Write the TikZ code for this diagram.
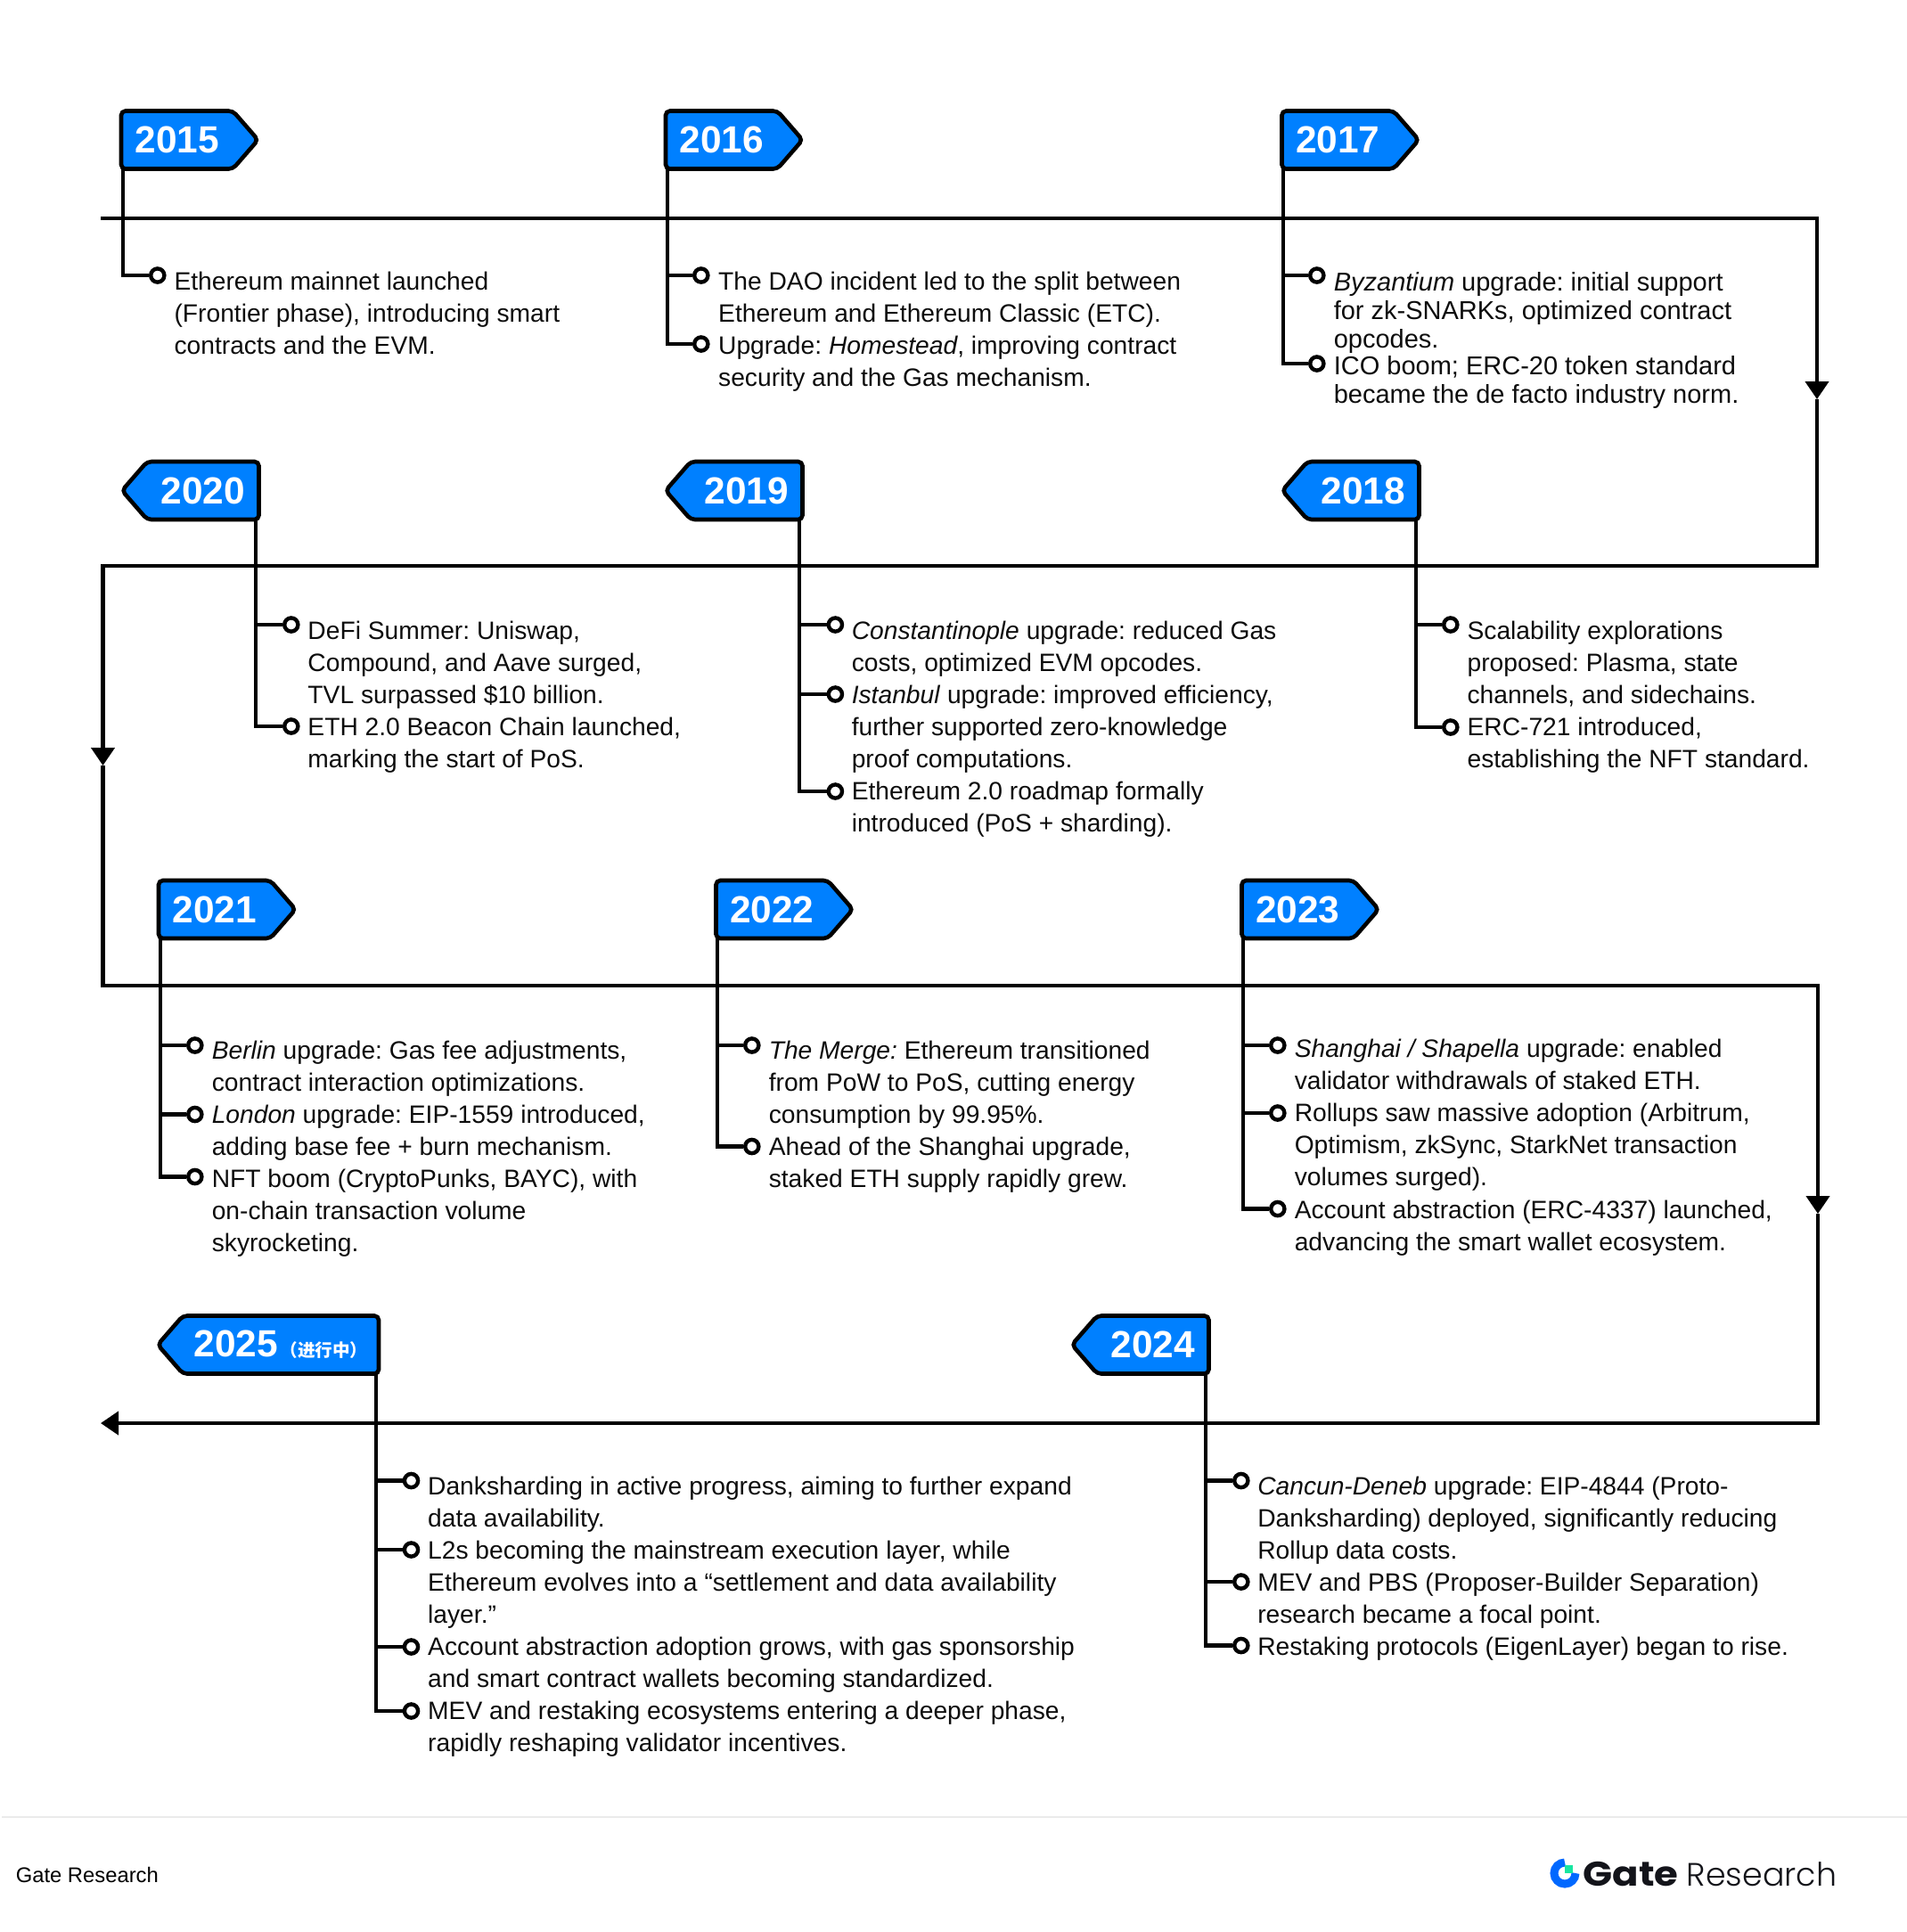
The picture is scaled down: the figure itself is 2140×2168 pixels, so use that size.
\documentclass[tikz,border=0pt]{standalone}
\usepackage{fontspec}
\setmainfont{Liberation Sans}
\newfontfamily\cjk{Noto Sans CJK SC}
\newfontfamily\gatewide[FakeStretch=1.13]{Poppins}
\newfontfamily\gatelight{Poppins Light}
\usetikzlibrary{arrows.meta,shapes.symbols,positioning}
\frenchspacing
\definecolor{flagblue}{HTML}{0080FF}
\definecolor{logoblue}{HTML}{0068FF}
\definecolor{logogreen}{HTML}{17E6A1}
\definecolor{logoink}{HTML}{13141A}
\definecolor{rulegray}{HTML}{EBEBEB}
\tikzset{
  flag/.style={signal,draw=black,fill=flagblue,line width=1.15pt,rounded corners=1.2pt,outer sep=0pt,inner sep=0pt,
    minimum height=16.25pt,minimum width=38.4pt,signal pointer angle=98,text=white,font=\fontsize{10.6}{12}\bfseries\selectfont},
  flagr/.style={flag,signal to=east,signal from=nowhere,anchor=west},
  flagl/.style={flag,signal to=west,signal from=nowhere,anchor=east},
  tline/.style={line width=1.05pt,line join=miter},
  tarrow/.style={tline,-{Triangle[width=6.5pt,length=5pt]}},
  stem/.style={line width=1.05pt},
  itemdot/.style={circle,draw=black,fill=white,line width=1.1pt,minimum size=3.8pt,inner sep=0pt,xshift=0.2pt},
  txt/.style={anchor=north west,align=left,inner sep=0pt,text=black!95,yshift=-1.4pt,font=\fontsize{7.05}{9}\selectfont,execute at begin node=\strut},
  txttight/.style={txt,font=\fontsize{7.25}{8}\selectfont}
}
\begin{document}
\begin{tikzpicture}[x=0.25pt,y=-0.25pt]
  \useasboundingbox (0,0) rectangle (2140,2168);

  % main line
  \coordinate (start) at (113,245);
  \coordinate (c1) at (2039,245);
  \coordinate (a1) at (2039,448);
  \coordinate (c2) at (2039,635);
  \coordinate (c3) at (115.5,635);
  \coordinate (a2) at (115.5,859);
  \coordinate (c4) at (115.5,1106);
  \coordinate (c5) at (2040,1106);
  \coordinate (a3) at (2040,1362);
  \coordinate (c6) at (2040,1597);
  \coordinate (end) at (113,1597);
  \draw[tarrow] (start) -- (c1) -- (a1);
  \draw[tarrow] (a1) -- (c2) -- (c3) -- (a2);
  \draw[tarrow] (a2) -- (c4) -- (c5) -- (a3);
  \draw[tarrow] (a3) -- (c6) -- (end);

  % flags
  \node[flagr] (f15) at (136,157) {2015};
  \node[flagr] (f16) at (747,157) {2016};
  \node[flagr] (f17) at (1438.5,157) {2017};
  \node[flagl] (f20) at (290.5,550.5) {2020};
  \node[flagl] (f19) at (900.5,550.5) {2019};
  \node[flagl] (f18) at (1592.5,550.5) {2018};
  \node[flagr] (f21) at (178,1020.5) {2021};
  \node[flagr] (f22) at (803.5,1020.5) {2022};
  \node[flagr] (f23) at (1393.5,1020.5) {2023};
  \node[flagl] (f24) at (1356.5,1509) {2024};
  \node[flagl,minimum width=62pt] (f25) at (425,1509) {2025\hspace{0.6pt}{\cjk\fontsize{4.9}{5}\selectfont （进行中）}};

  % stems leave the flags just inside their straight edge
  \coordinate (s15) at ([xshift=0.4pt]f15.south west);
  \coordinate (s16) at ([xshift=0.4pt]f16.south west);
  \coordinate (s17) at ([xshift=0.4pt]f17.south west);
  \coordinate (s20) at ([xshift=-0.8pt]f20.south east);
  \coordinate (s19) at ([xshift=-0.8pt]f19.south east);
  \coordinate (s18) at ([xshift=-0.8pt]f18.south east);
  \coordinate (s21) at ([xshift=0.4pt]f21.south west);
  \coordinate (s22) at ([xshift=0.4pt]f22.south west);
  \coordinate (s23) at ([xshift=0.4pt]f23.south west);
  \coordinate (s24) at ([xshift=-0.8pt]f24.south east);
  \coordinate (s25) at ([xshift=-0.8pt]f25.south east);

  % 2015
  \node[itemdot] (d15a) at (176,309) {};
  \node[txt] (t15a) at (194.8,299) {Ethereum mainnet launched\\(Frontier phase), introducing smart\\contracts and the EVM.};
  \draw[stem] (s15) |- (d15a);

  % 2016
  \node[itemdot] (d16a) at (786,309) {};
  \node[itemdot] (d16b) at (786,386) {};
  \node[txt] (t16a) at (805.4,299) {The DAO incident led to the split between\\Ethereum and Ethereum Classic (ETC).};
  \node[txt] (t16b) at (805.4,371) {Upgrade: \textit{Homestead}, improving contract\\security and the Gas mechanism.};
  \draw[stem] (s16) |- (d16a);
  \draw[stem] (s16) |- (d16b);

  % 2017
  \node[itemdot] (d17a) at (1477,309) {};
  \node[itemdot] (d17b) at (1477,408) {};
  \node[txttight] (t17a) at (1496,298.6) {\textit{Byzantium} upgrade: initial support\\for zk-SNARKs, optimized contract\\opcodes.};
  \node[txttight] (t17b) at (1496,393) {ICO boom; ERC-20 token standard\\became the de facto industry norm.};
  \draw[stem] (s17) |- (d17a);
  \draw[stem] (s17) |- (d17b);

  % 2020
  \node[itemdot] (d20a) at (326,701) {};
  \node[itemdot] (d20b) at (326,815) {};
  \node[txt] (t20a) at (344.7,691) {DeFi Summer: Uniswap,\\Compound, and Aave surged,\\TVL surpassed \$10 billion.};
  \node[txt] (t20b) at (344.7,799) {ETH 2.0 Beacon Chain launched,\\marking the start of PoS.};
  \draw[stem] (s20) |- (d20a);
  \draw[stem] (s20) |- (d20b);

  % 2019
  \node[itemdot] (d19a) at (936.6,701) {};
  \node[itemdot] (d19b) at (936.6,779) {};
  \node[itemdot] (d19c) at (936.6,888) {};
  \node[txt] (t19a) at (955,691) {\textit{Constantinople} upgrade: reduced Gas\\costs, optimized EVM opcodes.};
  \node[txt] (t19b) at (955,763) {\textit{Istanbul} upgrade: improved efficiency,\\further supported zero-knowledge\\proof computations.};
  \node[txt] (t19c) at (955,871) {Ethereum 2.0 roadmap formally\\introduced (PoS + sharding).};
  \draw[stem] (s19) |- (d19a);
  \draw[stem] (s19) |- (d19b);
  \draw[stem] (s19) |- (d19c);

  % 2018
  \node[itemdot] (d18a) at (1627,701) {};
  \node[itemdot] (d18b) at (1627,816) {};
  \node[txt] (t18a) at (1645.8,691) {Scalability explorations\\proposed: Plasma, state\\channels, and sidechains.};
  \node[txt] (t18b) at (1645.8,799) {ERC-721 introduced,\\establishing the NFT standard.};
  \draw[stem] (s18) |- (d18a);
  \draw[stem] (s18) |- (d18b);

  % 2021
  \node[itemdot] (d21a) at (218,1173) {};
  \node[itemdot] (d21b) at (218,1250.5) {};
  \node[itemdot] (d21c) at (218,1320.5) {};
  \node[txt] (t21a) at (237,1162) {\textit{Berlin} upgrade: Gas fee adjustments,\\contract interaction optimizations.};
  \node[txt] (t21b) at (237,1234) {\textit{London} upgrade: EIP-1559 introduced,\\adding base fee + burn mechanism.};
  \node[txt] (t21c) at (237,1306) {NFT boom (CryptoPunks, BAYC), with\\on-chain transaction volume\\skyrocketing.};
  \draw[stem] (s21) |- (d21a);
  \draw[stem] (s21) |- (d21b);
  \draw[stem] (s21) |- (d21c);

  % 2022
  \node[itemdot] (d22a) at (843,1173) {};
  \node[itemdot] (d22b) at (843,1286.5) {};
  \node[txt] (t22a) at (862,1162) {\textit{The Merge:} Ethereum transitioned\\from PoW to PoS, cutting energy\\consumption by 99.95\%.};
  \node[txt] (t22b) at (862,1270) {Ahead of the Shanghai upgrade,\\staked ETH supply rapidly grew.};
  \draw[stem] (s22) |- (d22a);
  \draw[stem] (s22) |- (d22b);

  % 2023
  \node[itemdot] (d23a) at (1433,1173) {};
  \node[itemdot] (d23b) at (1433,1249) {};
  \node[itemdot] (d23c) at (1433,1356.5) {};
  \node[txt] (t23a) at (1452,1160) {\textit{Shanghai / Shapella} upgrade: enabled\\validator withdrawals of staked ETH.};
  \node[txt] (t23b) at (1452,1232) {Rollups saw massive adoption (Arbitrum,\\Optimism, zkSync, StarkNet transaction\\volumes surged).};
  \node[txt] (t23c) at (1452,1341) {Account abstraction (ERC-4337) launched,\\advancing the smart wallet ecosystem.};
  \draw[stem] (s23) |- (d23a);
  \draw[stem] (s23) |- (d23b);
  \draw[stem] (s23) |- (d23c);

  % 2025
  \node[itemdot] (d25a) at (460.7,1661.5) {};
  \node[itemdot] (d25b) at (460.7,1739) {};
  \node[itemdot] (d25c) at (460.7,1848) {};
  \node[itemdot] (d25d) at (460.7,1920) {};
  \node[txt] (t25a) at (479.4,1651) {Danksharding in active progress, aiming to further expand\\data availability.};
  \node[txt] (t25b) at (479.4,1723) {L2s becoming the mainstream execution layer, while\\Ethereum evolves into a “settlement and data availability\\layer.”};
  \node[txt] (t25c) at (479.4,1831) {Account abstraction adoption grows, with gas sponsorship\\and smart contract wallets becoming standardized.};
  \node[txt] (t25d) at (479.4,1903) {MEV and restaking ecosystems entering a deeper phase,\\rapidly reshaping validator incentives.};
  \draw[stem] (s25) |- (d25a);
  \draw[stem] (s25) |- (d25b);
  \draw[stem] (s25) |- (d25c);
  \draw[stem] (s25) |- (d25d);

  % 2024
  \node[itemdot] (d24a) at (1392,1661.5) {};
  \node[itemdot] (d24b) at (1392,1775) {};
  \node[itemdot] (d24c) at (1392,1846.5) {};
  \node[txt] (t24a) at (1410.5,1651) {\textit{Cancun-Deneb} upgrade: EIP-4844 (Proto-\\Danksharding) deployed, significantly reducing\\Rollup data costs.};
  \node[txt] (t24b) at (1410.5,1759) {MEV and PBS (Proposer-Builder Separation)\\research became a focal point.};
  \node[txt] (t24c) at (1410.5,1826) {Restaking protocols (EigenLayer) began to rise.};
  \draw[stem] (s24) |- (d24a);
  \draw[stem] (s24) |- (d24b);
  \draw[stem] (s24) |- (d24c);

  % footer
  \draw[rulegray,line width=0.5pt] (2,2039) -- (2140,2039);
  \node[anchor=base west,inner sep=0pt,font=\fontsize{5.95}{7}\selectfont] (gate) at (17,2112) {Gate Research};
  \draw[logoblue,line width=2.25pt] (1756,2090) arc[start angle=270,end angle=0,radius=12];
  \fill[logogreen] (1756,2093) rectangle (1765,2102);
  \node[anchor=base west,inner sep=0pt,text=logoink,font=\gatewide\bfseries\fontsize{9.6}{11}\selectfont] (logoa) at (1776,2116) {Gate};
  \node[anchor=base west,inner sep=0pt,text=logoink,font=\gatelight\fontsize{9.1}{10}\selectfont] (logob) at (1892,2116) {Research};
\end{tikzpicture}
\end{document}
